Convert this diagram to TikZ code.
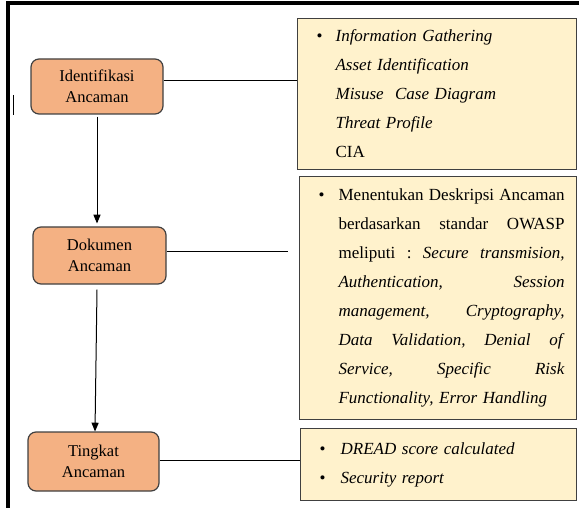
\documentclass[tikz,border=0pt]{standalone}
\usepackage{fontspec}
\setmainfont{Liberation Serif}
\usepackage{xcolor}
\usetikzlibrary{arrows,calc}
\definecolor{boxorange}{HTML}{F4B183}
\definecolor{boxcream}{HTML}{FFF2CC}
\definecolor{boxline}{HTML}{404040}

\begin{document}
\begin{tikzpicture}[x=1pt,y=-1pt,
  stage/.style={draw=boxline,line width=1.2pt,fill=boxorange,rounded corners=8pt,
    align=center,inner sep=0pt,font=\fontsize{16.5}{21}\selectfont},
  note/.style={draw=boxline,line width=1.2pt,fill=boxcream,anchor=north west,
    inner sep=0pt,align=left,font=\fontsize{17}{29}\selectfont}]
\useasboundingbox (0,0) rectangle (579,508);

    \draw[black,line width=4pt] (8,508) -- (8,3.5) -- (579,3.5);
    \draw[black,line width=1.2pt] (13.7,95) -- (13.7,115);

    \node[stage,minimum width=132pt,minimum height=55pt] (ident) at (97,86.5) {Identifikasi\\Ancaman};
    \node[stage,minimum width=133pt,minimum height=57pt] (dok) at (99.5,255.5) {Dokumen\\Ancaman};
    \node[stage,minimum width=131pt,minimum height=59pt] (ting) at (93.5,461.5) {Tingkat\\Ancaman};

    \node[note,text width=279pt,minimum height=151pt] (info) at (297,18) {%
      \hspace*{19pt}\makebox[19pt][l]{\textbullet}\textit{Information Gathering}\\
      \hspace*{38pt}\textit{Asset Identification}\\
      \hspace*{38pt}\textit{Misuse\ \ Case Diagram}\\
      \hspace*{38pt}\textit{Threat Profile}\\
      \hspace*{38pt}CIA};
    \node[note,text width=277pt,minimum height=243pt] (desc) at (299,176) {%
      \hspace*{19pt}\makebox[20pt][l]{\textbullet}\hbox to 226pt{Menentukan\hfill Deskripsi\hfill Ancaman}\\
      \hspace*{39pt}\hbox to 226pt{berdasarkan\hfill standar\hfill OWASP}\\
      \hspace*{39pt}\hbox to 226pt{meliputi\hfill :\hfill \textit{Secure}\hfill\textit{transmision,}}\\
      \hspace*{39pt}\hbox to 226pt{\textit{Authentication,}\hfill\textit{Session}}\\
      \hspace*{39pt}\hbox to 226pt{\textit{management,}\hfill\textit{Cryptography,}}\\
      \hspace*{39pt}\hbox to 226pt{\textit{Data}\hfill\textit{Validation,}\hfill\textit{Denial}\hfill\textit{of}}\\
      \hspace*{39pt}\hbox to 226pt{\textit{Service,}\hfill\textit{Specific}\hfill\textit{Risk}}\\
      \hspace*{39pt}\textit{Functionality, Error Handling}};
    \node[note,text width=276pt,minimum height=72pt] (report) at (300,428) {%
      \hspace*{19pt}\makebox[21pt][l]{\textbullet}\textit{DREAD score calculated}\\
      \hspace*{19pt}\makebox[21pt][l]{\textbullet}\textit{Security report}};

\begin{scope}[>=triangle 45,line width=1pt]
    \coordinate (identout) at ($(ident.east)+(0,-5.5)$);
    \draw[black] (identout) -- (identout -| info.west);

    \coordinate (dokout) at ($(dok.east)+(0,-3.5)$);
    \coordinate (dokend) at (288,252);
    \draw[black] (dokout) -- (dokend);

    \coordinate (tingout) at ($(ting.east)+(0,-1.5)$);
    \draw[black] (tingout) -- (tingout -| report.west);

    \draw[black,->,shorten >=3pt] ($(ident.south)+(0,2)$) -- (ident.south |- dok.north);
    \draw[black,->] ($(dok.south)+(-2.5,5)$) -- ($(ting.north)+(1.5,0)$);
\end{scope}
\end{tikzpicture}
\end{document}
